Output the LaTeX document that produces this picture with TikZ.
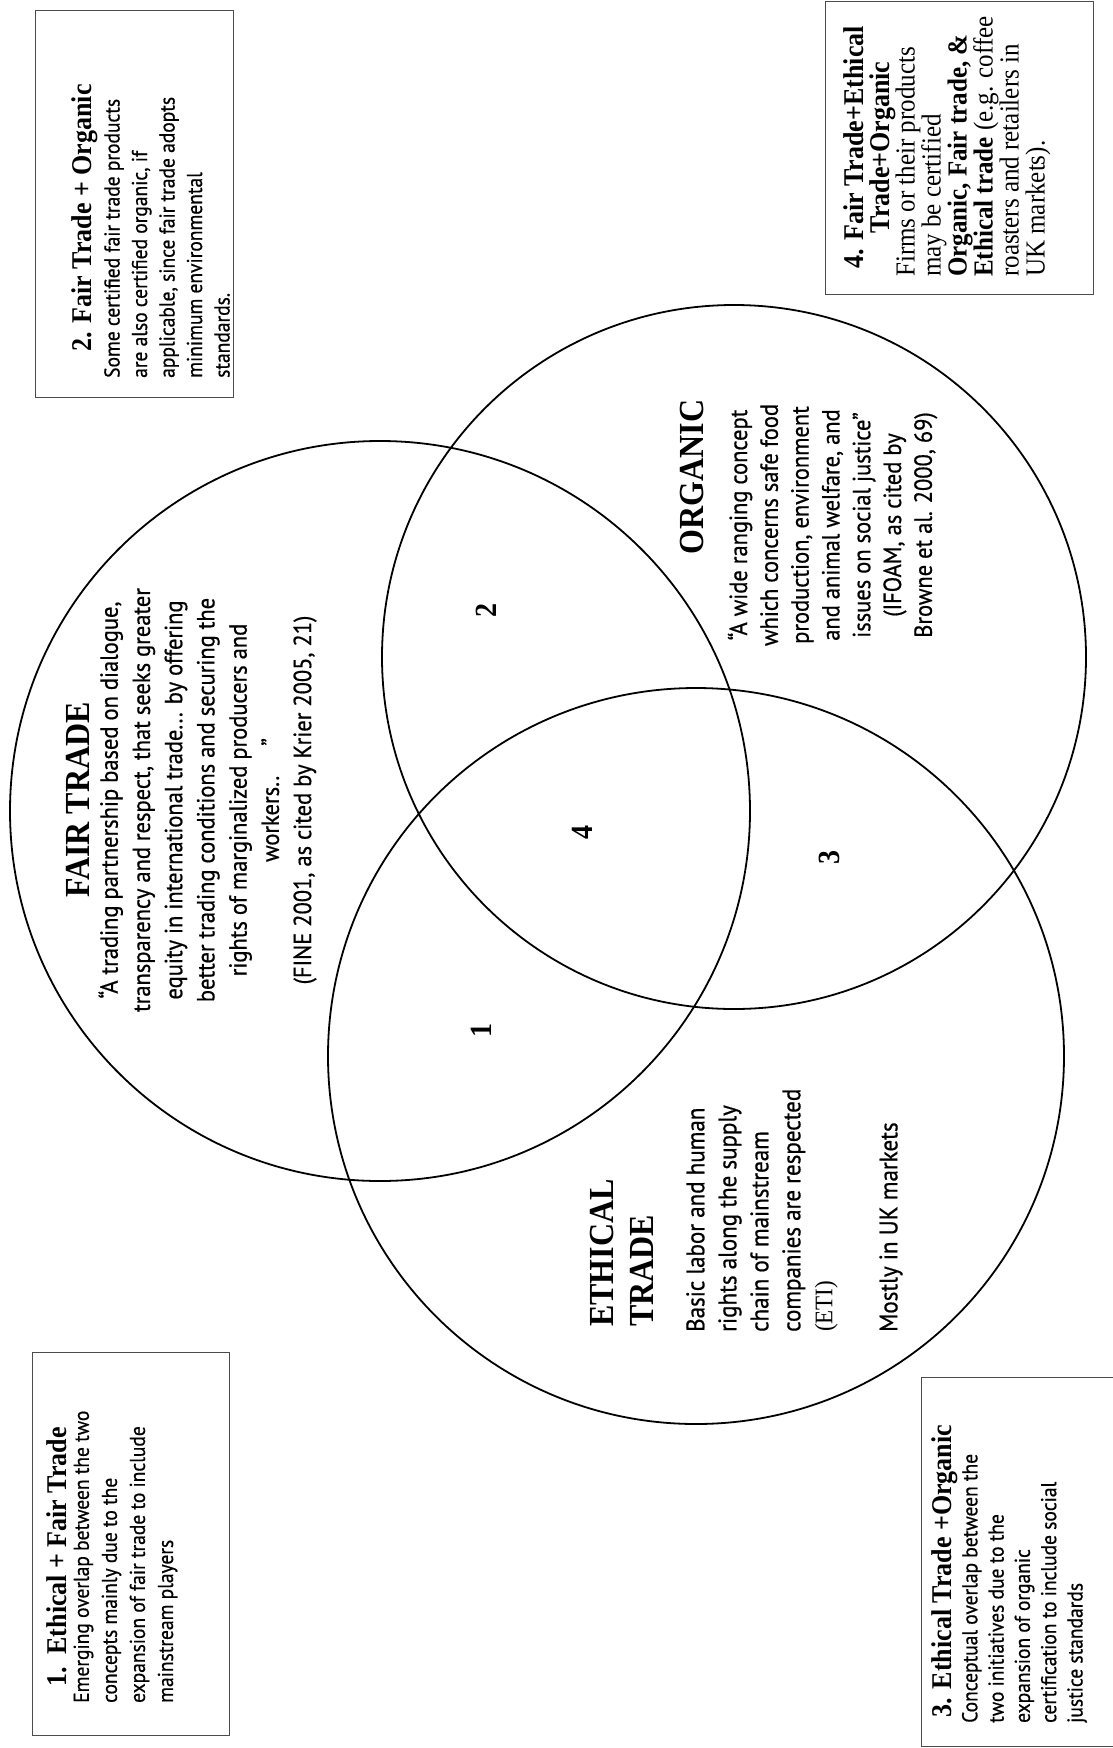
\documentclass[tikz,border=0pt]{standalone}
\usepackage{fontspec}
\setmainfont{Liberation Serif}
\newfontfamily\bodysans[FakeBold=0.7]{PT Sans}
\begin{document}
\begin{tikzpicture}[x=1pt,y=-1pt,
  ring/.style={circle, draw=black, line width=1.8pt, inner sep=0pt},
  panel/.style={draw=black!70, line width=1.1pt, anchor=north west, inner sep=0pt},
  % text reads bottom to top, with slightly tall letters
  vtext/.style={xscale=1.1, rotate=90, inner sep=0pt},
  boxhead/.style={vtext, align=center, font=\fontsize{26}{24}\selectfont\bfseries},
  boxbody/.style={vtext, anchor=west, align=left},
  bighead/.style={vtext, font=\fontsize{32}{36.4}\selectfont\bfseries},
  region/.style={vtext, font=\fontsize{28}{28}\selectfont\bfseries}
]
\path[use as bounding box] (0,0) rectangle (1113,1748);
\clip (0,0) rectangle (1113,1748);
\fill[white] (0,0) rectangle (1113,1748);

% the three sets
\node[ring, minimum size=740pt] (fair) at (380,811) {};
\node[ring, minimum size=704pt] (organic) at (734,657) {};
\node[ring, minimum size=736pt] (ethical) at (696,1056) {};

% Fair trade
\node[bighead] (fairhead) at (78,800) {FAIR TRADE};
\node[vtext, align=center, font=\bodysans\fontsize{22.5}{29.3}\selectfont] (fairtext) at (207.5,800)
  {“A trading partnership based on dialogue,\\
   transparency and respect, that seeks greater\\
   equity in international trade... by offering\\
   better trading conditions and securing the\\
   rights of marginalized producers and\\
   workers..\hspace{30pt}”\\
   (FINE 2001, as cited by Krier 2005, 21)};

% Organic
\node[bighead] (orghead) at (692,477) {ORGANIC};
\node[vtext, align=center, font=\bodysans\fontsize{22.5}{28}\selectfont] (orgtext) at (832.5,525)
  {“A wide ranging concept\\
   which concerns safe food\\
   production, environment\\
   and animal welfare, and\\
   issues on social justice”\\
   (IFOAM, as cited by\\
   Browne et al. 2000, 69)};

% Ethical trade
\node[bighead, anchor=west, align=left] (ethhead) at (622,1327) {ETHICAL\\TRADE};
\node[boxbody, font=\bodysans\fontsize{23}{29.1}\selectfont] (ethtext) at (762,1332)
  {Basic labor and human\\
   rights along the supply\\
   chain of mainstream\\
   companies are respected\\
   {\rmfamily (ETI)}};
\node[boxbody, font=\bodysans\fontsize{23}{29.1}\selectfont] (ethmarket) at (891,1332) {Mostly in UK markets};

% overlap numbers
\node[region] (n1) at (481,1030) {1};
\node[region] (n2) at (486,610) {2};
\node[region] (n3) at (829,857) {3};
\node[region] (n4) at (582,832) {4};

% explanation boxes
\node[panel, minimum width=197pt, minimum height=383pt] (box1) at (32,1352) {};
\node[boxhead] (box1head) at (57,1557) {1.\enspace Ethical + Fair Trade};
\node[boxbody, font=\bodysans\fontsize{19.5}{25.5}\selectfont] (box1text) at (125.5,1703)
  {Emerging overlap between the two\\
   concepts mainly due to the\\
   expansion of fair trade to include\\
   mainstream players};

\node[panel, minimum width=198pt, minimum height=387pt] (box2) at (35,10) {};
\node[boxhead] (box2head) at (85,218) {2. Fair Trade + Organic};
\node[boxbody, font=\bodysans\fontsize{19.5}{25}\selectfont] (box2text) at (167,378)
  {Some certified fair trade products\\
   are also certified organic, if\\
   applicable, since fair trade adopts\\
   minimum environmental\\
   standards.};

\node[panel, minimum width=210pt, minimum height=369pt] (box3) at (921,1377) {};
\node[boxhead] (box3head) at (945,1571) {3. Ethical Trade +Organic};
\node[boxbody, font=\bodysans\fontsize{19.5}{23.9}\selectfont] (box3text) at (1024.5,1723)
  {Conceptual overlap between the\\
   two initiatives due to the\\
   expansion of organic\\
   certification to include social\\
   justice standards};

\node[panel, minimum width=268pt, minimum height=293pt] (box4) at (825,1) {};
\node[boxhead, font=\fontsize{26}{23.6}\selectfont\bfseries] (box4head) at (870,147.5)
  {4. Fair Trade+Ethical\\Trade+Organic};
\node[boxbody, font=\fontsize{25}{23.6}\selectfont] (box4text) at (973,277)
  {Firms or their products\\
   may be certified\\
   \textbf{Organic, Fair trade, \&}\\
   \textbf{Ethical trade} (e.g. coffee\\
   roasters and retailers in\\
   UK markets).};
\end{tikzpicture}
\end{document}
